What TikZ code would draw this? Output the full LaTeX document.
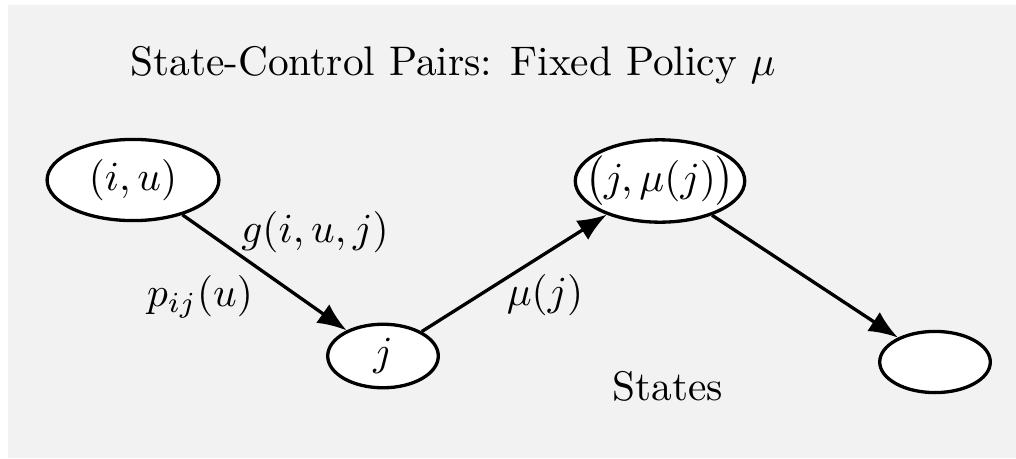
\documentclass[tikz,border=0pt]{standalone}
\usepackage{amsmath}
\usepackage{tikz}
\usetikzlibrary{shapes.geometric, arrows.meta}

\begin{document}
\begin{tikzpicture}[x=0.0085cm, y=-0.0085cm, line width=0.8pt,
		statenode/.style={draw, ellipse, fill=white, inner sep=0pt},
		link/.style={-{Latex[length=7pt, width=5.5pt]}}]
		% Background
		\useasboundingbox (0,0) rectangle (1016,458);
		\fill[black!5] (8,5) rectangle (1016,458);

		% Title
		\node[anchor=west] (title) at (115,65) {State-Control Pairs: Fixed Policy $\mu$};

		% Nodes
		\node[statenode, minimum width=1.46cm, minimum height=0.69cm] (iu) at (133,180) {$(i,u)$};
		\node[statenode, inner xsep=-0.13cm, minimum width=1.44cm, minimum height=0.70cm] (jmu) at (660,181) {$\bigl(j,\mu(j)\bigr)$};
		\node[statenode, minimum width=0.94cm, minimum height=0.54cm] (j) at (383,356) {$j$};
		\node[statenode, minimum width=0.94cm, minimum height=0.52cm] (next) at (935,362) {};

		% Connecting arrows
		\draw[link] (iu) -- (j);
		\draw[link] (j) -- (jmu);
		\draw[link] (jmu) -- (next);

		% Labels
		\node (cost) at (315,232) {$g(i,u,j)$};
		\node (prob) at (200,297) {$p_{ij}(u)$};
		\node (ctrl) at (545,295) {$\mu(j)$};
		\node (states) at (668,386) {States};
	\end{tikzpicture}
\end{document}
